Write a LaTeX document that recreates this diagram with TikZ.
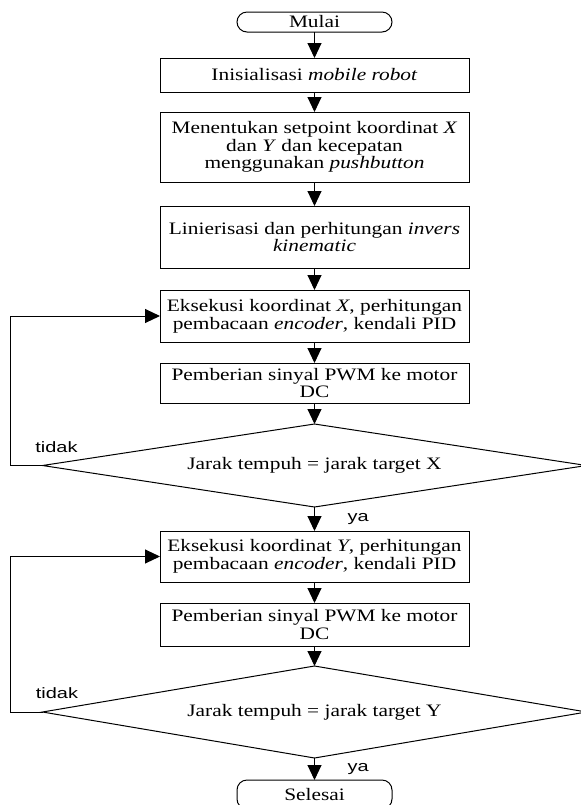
\documentclass[tikz,border=0pt]{standalone}
\usepackage{fontspec}
\setmainfont{Liberation Serif}[FakeStretch=1.22]
\newfontfamily\answerfont{Liberation Sans}[FakeStretch=1.33]
\usetikzlibrary{arrows.meta,positioning,shapes.geometric}

\begin{document}
\begin{tikzpicture}
        [
            > = {Triangle[width=7pt,length=7.5pt]},
            line width = .5pt,
            node distance = 11pt,
            term/.style = {
                draw, rectangle, rounded corners=5pt,
                minimum width=77.5pt, minimum height=10pt,
                inner sep=0pt, outer sep=0pt,
                font=\fontsize{8.75}{8.9}\selectfont},
            proc/.style = {
                draw, rectangle, align=center,
                minimum width=154.5pt, inner sep=0pt, outer sep=0pt,
                font=\fontsize{8.75}{8.9}\selectfont},
            cond/.style = {
                draw, diamond, aspect=6.5, inner sep=0pt, outer sep=0pt,
                minimum width=272pt,
                font=\fontsize{8.75}{8.9}\selectfont},
            answer/.style = {font=\answerfont\fontsize{7.5}{8}\selectfont}
        ]
        \useasboundingbox (0,0) rectangle (290.5pt,-402.5pt);
        \node [term] (start) at (157.25pt,-11pt) {Mulai};
        \node [proc, minimum height=17pt] (init) [below=13pt of start]
            {Inisialisasi \textit{mobile robot}};
        \node [proc, minimum height=35pt] (setp) [below=10pt of init]
            {Menentukan setpoint koordinat \textit{X}\\ dan \textit{Y} dan kecepatan\\ menggunakan \textit{pushbutton}};
        \node [proc, minimum height=31pt] (invk) [below=12pt of setp]
            {Linierisasi dan perhitungan \textit{invers}\\ \textit{kinematic}};
        \node [proc, minimum height=26pt] (exx) [below=of invk]
            {Eksekusi koordinat \textit{X}, perhitungan\\ pembacaan \textit{encoder}, kendali PID};
        \node [proc, minimum height=20pt] (pwmx) [below=10.5pt of exx]
            {Pemberian sinyal PWM ke motor\\ DC};
        \node [cond, minimum height=41.5pt] (chkx) [below=10.5pt of pwmx]
            {Jarak tempuh = jarak target X};
        \node [proc, minimum height=25.5pt] (exy) [below=12pt of chkx]
            {Eksekusi koordinat \textit{Y}, perhitungan\\ pembacaan \textit{encoder}, kendali PID};
        \node [proc, minimum height=21.5pt] (pwmy) [below=10.5pt of exy]
            {Pemberian sinyal PWM ke motor\\ DC};
        \node [cond, minimum height=46pt] (chky) [below=10pt of pwmy]
            {Jarak tempuh = jarak target Y};
        \node [term, minimum height=14.5pt] (stop) [below=11pt of chky] {Selesai};
        \draw [->] (start) -- (init);
        \draw [->] (init) -- (setp);
        \draw [->] (setp) -- (invk);
        \draw [->] (invk) -- (exx);
        \draw [->] (exx) -- (pwmx);
        \draw [->] (pwmx) -- (chkx);
        \draw [->] (chkx) -- node [answer, right=13pt] (yax) {ya} (exy);
        \draw [->] (exy) -- (pwmy);
        \draw [->] (pwmy) -- (chky);
        \draw [->] (chky) -- node [answer, right=13pt] (yay) {ya} (stop);
        % loops back when the target is not reached
        \draw [->] (chkx.west) -- ++(-16.25pt,0) |- (exx.west);
        \draw [->] (chky.west) -- ++(-16.25pt,0) |- (exy.west);
        \node [answer] (nox) at ([shift={(7pt,9pt)}]chkx.west) {tidak};
        \node [answer] (noy) at ([shift={(7.25pt,9.5pt)}]chky.west) {tidak};
    \end{tikzpicture}
\end{document}
